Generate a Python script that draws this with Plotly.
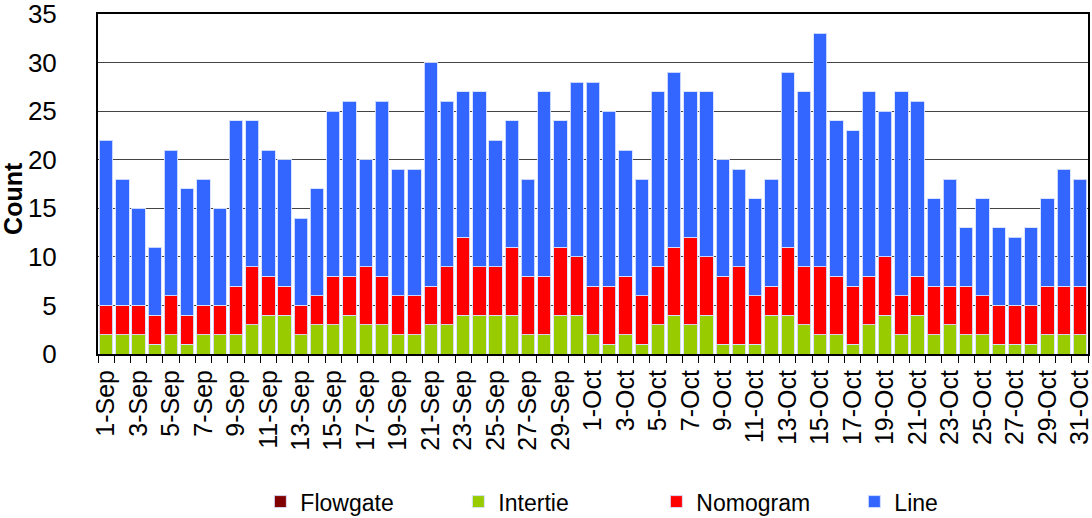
import plotly.graph_objects as go

# day labels
days = [f"{d}-Sep" for d in range(1, 31)] + [f"{d}-Oct" for d in range(1, 32)]
day_text = [d if i % 2 == 0 else "" for i, d in enumerate(days)]

# counts per category
flowgate = [0] * 61
intertie = [2, 2, 2, 1, 2, 1, 2, 2, 2, 3, 4, 4, 2, 3, 3, 4, 3, 3, 2, 2,
            3, 3, 4, 4, 4, 4, 2, 2, 4, 4,
            2, 1, 2, 1, 3, 4, 3, 4, 1, 1, 1, 4, 4, 3, 2, 2, 1, 3, 4, 2,
            4, 2, 3, 2, 2, 1, 1, 1, 2, 2, 2]
nomogram = [3, 3, 3, 3, 4, 3, 3, 3, 5, 6, 4, 3, 3, 3, 5, 4, 6, 5, 4, 4,
            4, 6, 8, 5, 5, 7, 6, 6, 7, 6,
            5, 6, 6, 5, 6, 7, 9, 6, 7, 8, 5, 3, 7, 6, 7, 6, 6, 5, 6, 4,
            4, 5, 4, 5, 4, 4, 4, 4, 5, 5, 5]
line = [17, 13, 10, 7, 15, 13, 13, 10, 17, 15, 13, 13, 9, 11, 17, 18, 11, 18, 13, 13,
        23, 17, 15, 18, 13, 13, 10, 19, 13, 18,
        21, 18, 13, 12, 18, 18, 15, 17, 12, 10, 10, 11, 18, 18, 24, 16, 16, 19, 15, 21,
        18, 9, 11, 6, 10, 8, 7, 8, 9, 12, 11]

series = [
    ("Flowgate", flowgate, "#800000"),
    ("Intertie", intertie, "#99CC00"),
    ("Nomogram", nomogram, "#FF0000"),
    ("Line", line, "#3366FF"),
]

fig = go.Figure()
for name, vals, color in series:
    fig.add_trace(go.Bar(
        x=days, y=vals, name=name,
        marker=dict(color=color, line=dict(color="rgba(215,225,255,0.9)", width=1)),
    ))

fig.update_layout(
    barmode="stack",
    bargap=0.18,
    width=1092, height=518,
    margin=dict(l=98, r=4, t=14, b=164, autoexpand=False),
    plot_bgcolor="white", paper_bgcolor="white",
    font=dict(family="Liberation Sans, Arial, sans-serif", size=26, color="black"),
    legend=dict(orientation="h", x=0.164, xanchor="left", y=-0.371, yanchor="top",
                font=dict(size=23), traceorder="normal", entrywidth=153,
                itemwidth=30),
    showlegend=True,
)
# y title as annotation so it sits where the original has it
fig.add_annotation(text="<b>Count</b>", xref="paper", yref="paper",
                   x=-0.0859, y=0.459, xanchor="center", yanchor="middle",
                   textangle=-90, showarrow=False, font=dict(size=25))
fig.update_xaxes(
    type="category", tickangle=-90,
    tickvals=days, ticktext=day_text, tickson="boundaries",
    ticks="outside", ticklen=7, tickcolor="black", tickwidth=1,
    showline=True, linecolor="black", linewidth=2, mirror=True,
    tickfont=dict(size=25), ticklabelstandoff=4, automargin=False,
)
fig.update_yaxes(
    range=[0, 35], dtick=5,
    showgrid=True, gridcolor="#444", gridwidth=1,
    showline=True, linecolor="black", linewidth=2, mirror=True,
    ticks="", ticklabelstandoff=34, ticklabeloverflow="allow",
    tickfont=dict(size=26), automargin=False,
)

# drop the default 8px body margin so the figure fills the window
fig.write_html("out.html", config={"displayModeBar": False},
               post_script="document.body.style.margin='0';")
